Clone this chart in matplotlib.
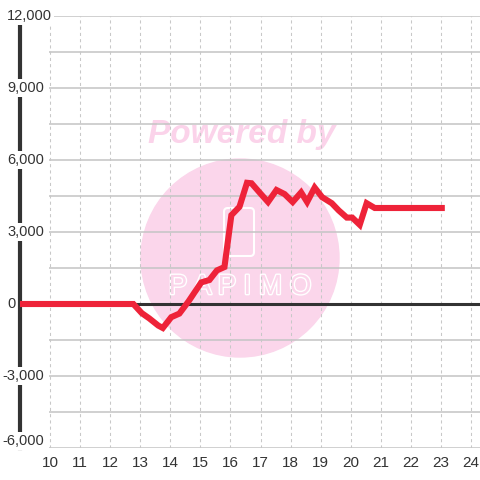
import matplotlib
matplotlib.use("Agg")
import matplotlib.pyplot as plt
from matplotlib.patches import Circle, FancyBboxPatch
import matplotlib.patheffects as pe

plt.rcParams["font.family"] = ["Liberation Sans", "DejaVu Sans"]

# data
x_vals = [9.0, 12.77, 13.05, 13.3, 13.6, 13.75, 14.03, 14.3, 14.6, 15.03, 15.3,
          15.55, 15.8, 16.03, 16.3, 16.55, 16.7, 17.0, 17.25, 17.53, 17.8, 18.07,
          18.35, 18.55, 18.8, 19.05, 19.37, 19.6, 19.87, 20.05, 20.3, 20.53, 20.8, 23.13]
y_vals = [0, 0, -380, -600, -900, -1000, -550, -400, 100, 900, 1000,
          1400, 1540, 3700, 4050, 5050, 5030, 4600, 4250, 4750, 4580, 4250,
          4650, 4250, 4850, 4450, 4200, 3900, 3600, 3600, 3300, 4200, 4000, 4000]
x_ticks = list(range(10, 25))
y_labels = [12000, 9000, 6000, 3000, 0, -3000, -6000]
y_grid = list(range(-6000, 12001, 1500))

fig = plt.figure(figsize=(4.8, 4.8), dpi=100)
fig.patch.set_facecolor("white")
ax = fig.add_axes([20/480, 32/480, 460/480, 432/480])
ax.patch.set_alpha(0)

# watermark (behind everything)
fig.add_artist(Circle((0.5, 1 - 258/480), 99/480, transform=fig.transFigure,
                      color="#fbd6eb", zorder=-2))
fig.text(0.503, 1 - 134/480, "Powered by", fontsize=24, fontweight="bold",
         fontstyle="italic", color="#fbd3ea", ha="center", va="center", zorder=-1)
fig.add_artist(FancyBboxPatch((224/480, 1 - 256/480), 30/480, 48/480,
                              boxstyle="round,pad=0,rounding_size=0.008",
                              transform=fig.transFigure, fill=False,
                              ec="white", lw=1.5, zorder=-1))
fig.text(0.5, 1 - 287/480, "P A P I M O", fontsize=20, color="#fbd6eb", ha="center",
         va="center", zorder=-1,
         path_effects=[pe.withStroke(linewidth=2, foreground="white")])

ax.set_xlim(9.0, 24.3)
ax.set_ylim(-6000, 12000)

# grids
ax.set_xticks(x_ticks)
ax.grid(axis="x", color="#c8c8c8", linestyle=(0, (3, 3)), lw=0.75)
ax.hlines(y_grid, x_ticks[0] - 0.03, 24.3, color="#c4c4c4", lw=1.1, zorder=1)
ax.axhline(0, color="#333333", lw=2.2, zorder=2)

ax.plot(x_vals, y_vals, color="#ee2339", lw=4.4, solid_joinstyle="miter",
        solid_capstyle="butt", zorder=3)

for s in ["top", "right", "bottom"]:
    ax.spines[s].set_visible(False)
ax.spines["left"].set_linewidth(3)
ax.spines["left"].set_color("#333333")
ax.spines["left"].set_zorder(2.5)

ax.set_yticks([])
ax.tick_params(axis="x", length=0, pad=6, labelsize=11, labelcolor="#333333")

for v in y_labels:
    xpos = -13/460 if v >= 0 else -18/460
    va = "bottom" if v == y_labels[-1] else "center"
    ax.text(xpos, v, f"{v:,}", transform=ax.get_yaxis_transform(), ha="left",
            va=va, fontsize=10.5, color="#333333", zorder=4, clip_on=False,
            bbox=dict(facecolor="white", edgecolor="none", pad=1.5))

fig.savefig("out.png", dpi=100)
